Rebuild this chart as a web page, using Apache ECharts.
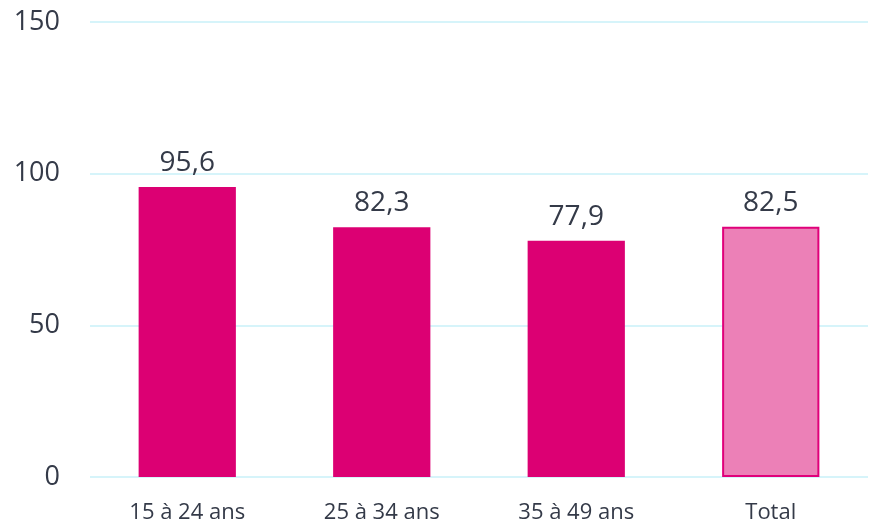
<!DOCTYPE html>
<html>
<head>
<meta charset="utf-8">
<script src="https://cdn.jsdelivr.net/npm/echarts@6/dist/echarts.min.js"></script>
<style>
  html, body { margin: 0; padding: 0; background: #fff; }
  #chart { width: 869px; height: 524px; }
</style>
</head>
<body>
<div id="chart"></div>
<script>
const categories = ['15 à 24 ans', '25 à 34 ans', '35 à 49 ans', 'Total']
const values = [95.6, 82.3, 77.9, 82.5]
const yTicks = [0, 50, 100, 150]

const textColor = '#343a48'
const font = '"Open Sans", sans-serif'

let myChart = echarts.init(document.getElementById('chart'))

let barData = values.map(function (v, i) {
  if (categories[i] === 'Total') {
    return {
      value: v,
      itemStyle: { color: '#ec80b7', borderColor: '#e0007a', borderWidth: 2 }
    }
  }
  return { value: v }
})

let option = {
  animation: false,
  grid: { left: 90, right: 1, top: 22, bottom: 47 },
  xAxis: {
    type: 'category',
    data: categories,
    axisLine: { show: false },
    axisTick: { show: false },
    axisLabel: { color: textColor, fontSize: 22, fontFamily: font, margin: 25 }
  },
  yAxis: {
    type: 'value',
    min: yTicks[0],
    max: yTicks[yTicks.length - 1],
    interval: 50,
    axisLine: { show: false },
    axisTick: { show: false },
    splitLine: { lineStyle: { color: '#c9f1f9', width: 1.5 } },
    axisLabel: { color: textColor, fontSize: 27, fontFamily: font, margin: 30 }
  },
  series: [
    {
      type: 'bar',
      barWidth: '50%',
      itemStyle: { color: '#dc0073' },
      label: {
        show: true,
        position: 'top',
        distance: 10,
        color: textColor,
        fontSize: 28,
        fontFamily: font,
        formatter: function (p) { return String(p.value).replace('.', ',') }
      },
      data: barData
    }
  ]
}
myChart.setOption(option)
</script>
</body>
</html>
